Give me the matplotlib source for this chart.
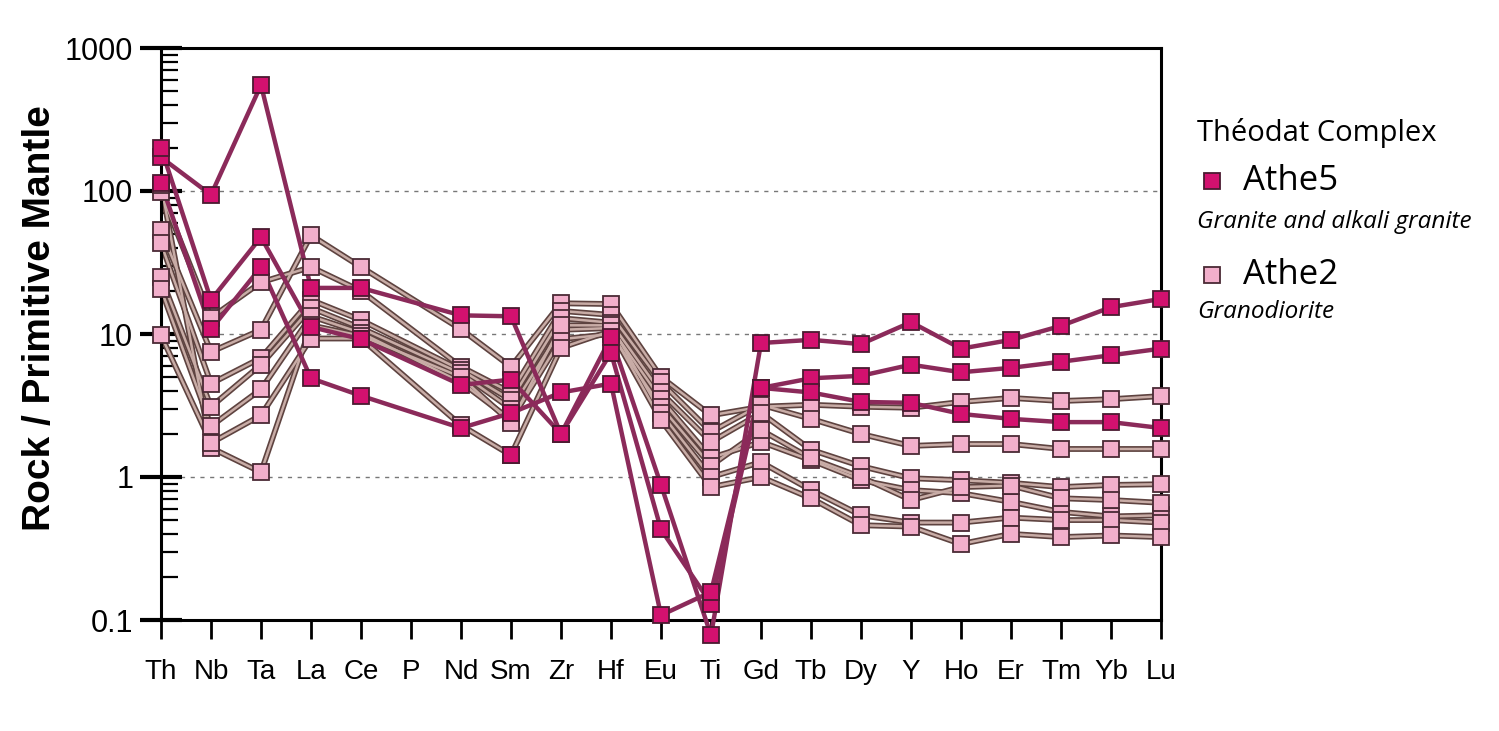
import numpy as np
import matplotlib
matplotlib.use("Agg")
import matplotlib.pyplot as plt
from matplotlib.lines import Line2D
from matplotlib.ticker import LogLocator, NullFormatter, FixedLocator

nan = np.nan
elements = ['Th', 'Nb', 'Ta', 'La', 'Ce', 'P', 'Nd', 'Sm', 'Zr', 'Hf', 'Eu', 'Ti',
            'Gd', 'Tb', 'Dy', 'Y', 'Ho', 'Er', 'Tm', 'Yb', 'Lu']

# Athe5 - Granite and alkali granite
athe5_a = [172, 94, 551, 21, 21, nan, 13.5, 13.3, 2.0, 9.5, 0.88, 0.078,
           8.65, 9.1, 8.5, 12.1, 7.9, 9.1, 11.4, 15.4, 17.6]
athe5_b = [200, 17.3, 47.6, 11.2, 9.2, nan, 4.4, 4.8, 2.0, 7.4, 0.43, 0.13,
           4.2, 4.9, 5.1, 6.1, 5.4, 5.8, 6.4, 7.1, 7.9]
athe5_c = [114, 10.8, 29.4, 4.9, 3.7, nan, 2.2, 2.8, 3.9, 4.5, 0.108, 0.157,
           4.2, 3.9, 3.35, 3.3, 2.76, 2.55, 2.42, 2.42, 2.2]
athe5_d = [nan, nan, nan, nan, nan, nan, nan, 1.42, nan, nan, nan, nan,
           nan, nan, nan, nan, nan, nan, nan, nan, nan]

# Athe2 - Granodiorite
athe2_1 = [53, 7.5, 10.7, 49, 29.4, nan, 10.8, 5.9, 16.4, 16.2, 5.0, 2.7,
           3.1, 3.2, 3.1, 3.05, 3.35, 3.57, 3.4, 3.5, 3.68]
athe2_2 = [98, 13, 23, 29.4, 20, nan, 5.9, 3.9, 14.5, 13.6, 4.6, 2.07,
           3.2, 2.55, 2.0, 1.65, 1.70, 1.70, 1.57, 1.57, 1.57]
athe2_3 = [43, 4.5, 6.8, 17.3, 12.5, nan, 5.6, 3.45, 12.9, 12.0, 3.9, 1.76,
           2.8, 1.55, 1.19, 0.98, 0.95, 0.91, 0.85, 0.88, 0.89]
athe2_4 = [25, 3.1, 6.1, 15.2, 11.0, nan, 5.3, 3.0, 10.7, 11.0, 3.5, 1.36,
           1.76, 1.31, 0.95, 0.81, 0.77, 0.67, 0.57, 0.53, 0.54]
athe2_5 = [20.6, 2.27, 4.1, 13.3, 10.2, nan, 4.6, 2.5, 9.2, 10.0, 3.1, 1.2,
           2.13, 1.35, 1.0, 0.69, 0.85, 0.87, 0.71, 0.69, 0.66]
athe2_6 = [110, 1.6, 1.08, 11.5, 9.7, nan, 5.0, 2.4, 11.5, 11.5, 2.8, 1.0,
           1.27, 0.81, 0.54, 0.48, 0.48, 0.52, 0.50, 0.50, 0.48]
athe2_7 = [9.8, 1.73, 2.7, 9.3, 9.3, nan, 2.3, 1.42, 8.0, 10.5, 2.5, 0.85,
           1.0, 0.71, 0.46, 0.45, 0.34, 0.40, 0.38, 0.39, 0.38]

athe5 = [athe5_a, athe5_b, athe5_c, athe5_d]
athe2 = [athe2_1, athe2_2, athe2_3, athe2_4, athe2_5, athe2_6, athe2_7]

y_ticks = [0.1, 1, 10, 100, 1000]
y_ticklabels = ['0.1', '1', '10', '100', '1000']

DARK_FILL = '#d3116f'
DARK_EDGE = '#4a1a30'
DARK_LINE = '#8b2a5a'
PINK_FILL = '#f2afcb'
PINK_EDGE = '#4a2a35'
PINK_OUT = '#5e4340'
PINK_IN = '#c8aca6'

fig = plt.figure(figsize=(14.99, 7.31), dpi=100)
ax = fig.add_axes([161/1499, 1-620/731, 1000/1499, 572/731])
ax.set_yscale('log')
ax.set_ylim(0.1, 1000)
ax.set_xlim(0, len(elements)-1)

x = np.arange(len(elements))
ms = 12

for s in athe2:
    v = np.array(s, dtype=float)
    m = ~np.isnan(v)
    ax.plot(x[m], v[m], color=PINK_OUT, lw=4.2, zorder=2, solid_capstyle='butt', clip_on=False)
    ax.plot(x[m], v[m], color=PINK_IN, lw=1.8, zorder=2.1, clip_on=False)

for s in athe5:
    v = np.array(s, dtype=float)
    m = ~np.isnan(v)
    ax.plot(x[m], v[m], color=DARK_LINE, lw=3.2, zorder=3, clip_on=False)

for s in athe2:
    v = np.array(s, dtype=float)
    m = ~np.isnan(v)
    ax.plot(x[m], v[m], ls='none', marker='s', ms=ms, mfc=PINK_FILL, mec=PINK_EDGE,
            mew=1.3, zorder=4, clip_on=False)
for s in athe5:
    v = np.array(s, dtype=float)
    m = ~np.isnan(v)
    ax.plot(x[m], v[m], ls='none', marker='s', ms=ms, mfc=DARK_FILL, mec=DARK_EDGE,
            mew=1.3, zorder=5, clip_on=False)

# grid at interior decades
for g in [1, 10, 100]:
    ax.axhline(g, color='#777777', lw=1.0, ls=(0, (3, 4)), zorder=1)

for sp in ax.spines.values():
    sp.set_linewidth(2.2)
    sp.set_color('black')

ax.yaxis.set_major_locator(FixedLocator(y_ticks))
ax.set_yticklabels(y_ticklabels, fontsize=22, family=['Liberation Sans', 'DejaVu Sans'])
ax.yaxis.set_minor_locator(LogLocator(base=10, subs=np.arange(2, 10)))
ax.yaxis.set_minor_formatter(NullFormatter())
ax.tick_params(axis='y', which='major', direction='inout', length=30, width=3, pad=5)
ax.tick_params(axis='y', which='minor', direction='in', length=12, width=1.6)
ax.set_xticks(x)
ax.set_xticklabels(elements, fontsize=20, family=['Liberation Sans', 'DejaVu Sans'])
ax.tick_params(axis='x', which='major', direction='out', length=14, width=2, pad=14)

fig.text(40/1499, 1-318/731, 'Rock / Primitive Mantle', rotation=90, ha='center', va='center',
         fontsize=28, fontweight='bold', family=['Liberation Sans', 'DejaVu Sans'])

# legend
lfont = ['Open Sans', 'DejaVu Sans']
fig.text(1197/1499, 1-133/731, 'Théodat Complex', ha='left', va='center', fontsize=21, family=lfont)
fig.add_artist(Line2D([1212/1499], [1-181/731], marker='s', ms=11, mfc=DARK_FILL, mec=DARK_EDGE,
                      mew=1.3, ls='none', transform=fig.transFigure))
fig.text(1243/1499, 1-181/731, 'Athe5', ha='left', va='center', fontsize=25, family=lfont)
fig.text(1197/1499, 1-222/731, 'Granite and alkali granite', ha='left', va='center', fontsize=17.5,
         style='italic', family=lfont)
fig.add_artist(Line2D([1212/1499], [1-275/731], marker='s', ms=11, mfc=PINK_FILL, mec=PINK_EDGE,
                      mew=1.3, ls='none', transform=fig.transFigure))
fig.text(1243/1499, 1-275/731, 'Athe2', ha='left', va='center', fontsize=25, family=lfont)
fig.text(1197/1499, 1-312/731, 'Granodiorite', ha='left', va='center', fontsize=17.5,
         style='italic', family=lfont)

fig.savefig('out.png', dpi=100)
